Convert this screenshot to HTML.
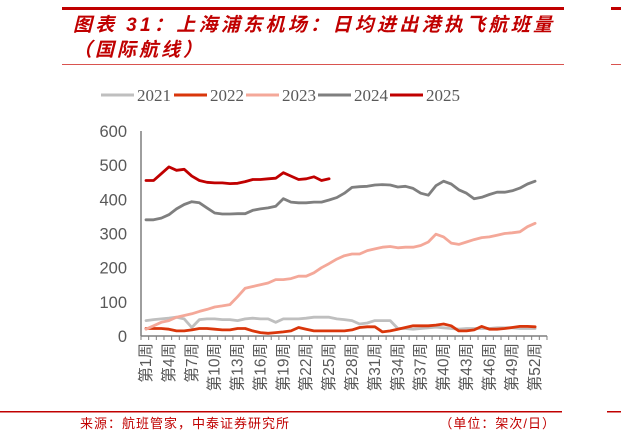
<!DOCTYPE html>
<html><head><meta charset="utf-8"><style>
html,body{margin:0;padding:0;background:#fff;width:621px;height:440px;overflow:hidden}
svg{display:block}
</style></head><body>
<svg id="c" width="621" height="440" xmlns="http://www.w3.org/2000/svg">
<rect x="62" y="7" width="502" height="3" fill="#c00000"/>
<rect x="611" y="7" width="10" height="3" fill="#c00000"/>
<text x="73" y="31" font-family="'Liberation Sans','Noto Sans CJK SC',sans-serif" font-size="19" font-weight="bold" font-style="italic" letter-spacing="3.3" fill="#c00000">图表 31：上海浦东机场：日均进出港执飞航班量</text>
<text x="73" y="56" font-family="'Liberation Sans','Noto Sans CJK SC',sans-serif" font-size="19" font-weight="bold" font-style="italic" letter-spacing="3" fill="#c00000">（国际航线）</text>
<rect x="62" y="64" width="502" height="1" fill="#d9534f"/>
<rect x="611" y="64" width="10" height="1" fill="#d9534f"/>
<g id="legend"></g>
<g id="plot"></g>
<rect x="0" y="411" width="562" height="1.5" fill="#c00000"/>
<rect x="607" y="411" width="14" height="1.5" fill="#c00000"/>
<text x="80" y="428" font-family="'Liberation Sans','Noto Sans CJK SC',sans-serif" font-size="13" letter-spacing="1" fill="#c00000">来源：航班管家，中泰证券研究所</text>
<text x="556" y="428" text-anchor="end" font-family="'Liberation Sans','Noto Sans CJK SC',sans-serif" font-size="13" letter-spacing="1" fill="#c00000">（单位：架次/日）</text>
</svg>
<script>
const yTicks=[0,100,200,300,400,500,600];
const seriesNames=["2021","2022","2023","2024","2025"];
const s2021=[45,48,50,52,55,50,25,48,50,50,48,48,45,50,52,50,50,40,50,50,50,52,55,55,55,50,48,45,35,38,45,45,45,22,22,20,22,24,26,24,22,20,22,22,22,22,24,24,24,22,22,22];
const s2022=[22,22,22,20,15,15,18,22,22,20,18,18,22,22,15,10,8,10,12,15,25,20,15,15,15,15,15,18,25,27,27,12,15,20,25,30,30,30,32,35,30,15,15,18,28,20,20,22,25,28,28,27];
const s2023=[20,30,40,45,55,60,65,72,78,85,88,92,115,140,145,150,155,165,165,168,175,175,185,200,212,225,235,240,240,250,255,260,262,258,260,260,265,275,298,290,272,268,275,282,288,290,295,300,302,305,320,330];
const s2024=[340,340,345,355,372,385,393,390,375,360,357,357,358,358,368,372,375,380,402,392,390,390,392,392,398,405,418,435,437,438,442,443,442,436,438,432,418,412,440,453,445,428,418,402,406,414,421,421,425,433,445,453];
const s2025=[455,455,475,495,485,488,468,455,450,448,448,446,447,452,458,458,460,462,478,468,458,460,466,455,460];
const colors=["#bfbfbf","#d9360b","#f4a899","#7f7f7f","#c00000"];
const NS="http://www.w3.org/2000/svg";
const plot=document.getElementById('plot'),legend=document.getElementById('legend');
const x0=146,step=7.63,yBase=336,yScale=205/600;
const X=i=>x0+i*step, Y=v=>yBase-v*yScale;
function mk(t,a,p){const e=document.createElementNS(NS,t);for(const k in a)e.setAttribute(k,a[k]);p.appendChild(e);return e;}
const font="'Liberation Sans','Noto Sans CJK SC',sans-serif";
yTicks.forEach(v=>{const t=mk('text',{x:127,y:Y(v)+6,'text-anchor':'end','font-family':font,'font-size':16.5,fill:'#595959'},plot);t.textContent=v;

});
const ya=mk('line',{x1:141,y1:131,x2:141,y2:yBase,stroke:'#7f7f7f','stroke-width':1.5},plot);


const xa=mk('line',{x1:141,y1:yBase,x2:547,y2:yBase,stroke:'#7f7f7f','stroke-width':1.5},plot);


for(let i=0;i<=53;i++){const tk=mk('line',{x1:141+i*7.66,y1:yBase,x2:141+i*7.66,y2:yBase+4,stroke:'#7f7f7f','stroke-width':1},plot);

}
for(let w=1;w<=52;w+=3){const cx=X(w-1)+5;const t=mk('text',{x:0,y:0,transform:`translate(${cx},${yBase+7}) rotate(-90)`,'text-anchor':'end','font-family':font,'font-size':15.5,fill:'#595959'},plot);t.textContent='第'+w+'周';

}
const all=[s2021,s2022,s2023,s2024,s2025];
all.forEach((s,k)=>{const d=s.map((v,i)=>(i?'L':'M')+X(i).toFixed(1)+','+Y(v).toFixed(1)).join('');
const p=mk('path',{d:d,fill:'none',stroke:colors[k],'stroke-width':2.8,'stroke-linejoin':'round','stroke-linecap':'round'},plot);

});
const lx=[101,174,246,318,390];
seriesNames.forEach((n,k)=>{const l=mk('line',{x1:lx[k],y1:95,x2:lx[k]+33,y2:95,stroke:colors[k],'stroke-width':3},legend);


const t=mk('text',{x:lx[k]+36,y:101,'font-family':"'Liberation Serif',serif",'font-size':17,fill:'#595959'},legend);t.textContent=n;

});
</script>
</body></html>
